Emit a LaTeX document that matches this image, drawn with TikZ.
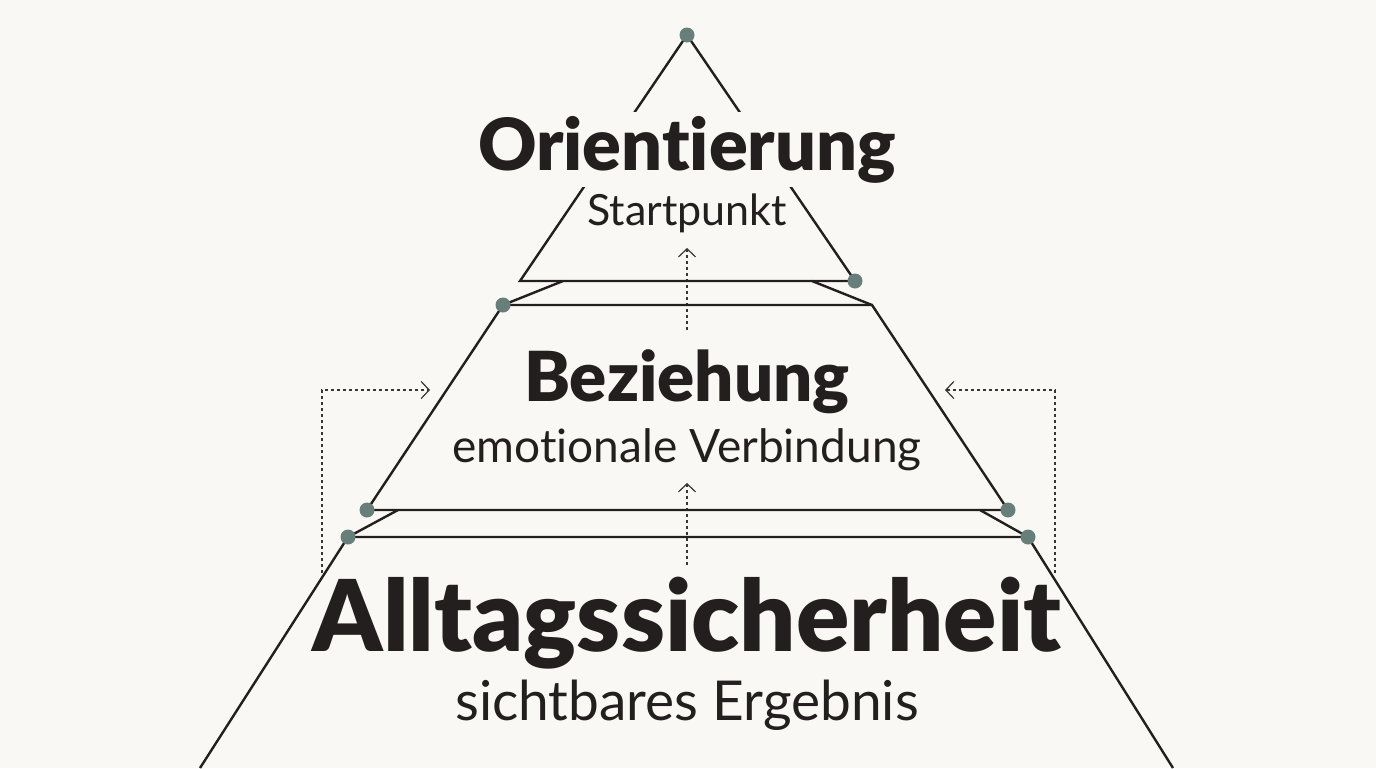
\documentclass[tikz,border=0pt]{standalone}
\usepackage{fontspec}
\setmainfont{Lato}[Ligatures=NoCommon, BoldFont={Lato Black}]
\usetikzlibrary{arrows.meta}
\definecolor{papier}{RGB}{250,248,245}
\definecolor{tinte}{RGB}{35,31,30}
\definecolor{punktfarbe}{RGB}{104,126,122}
\def\breite{1376}
\def\hoehe{768}
\tikzset{
  kante/.style={line width=1.2pt, tinte},
  punkt/.style={circle, fill=punktfarbe, inner sep=0pt, minimum size=7.5pt},
  pfeil/.style={line width=0.6pt, tinte!90, dash pattern=on 1.5pt off 1.5pt,
    -{Straight Barb[length=4pt, width=8.5pt]}},
  titel/.style={tinte, font=\bfseries, inner sep=0pt, anchor=base},
  untertitel/.style={tinte, inner sep=0pt, anchor=base},
}

\begin{document}
\begin{tikzpicture}[x=0.5pt, y=-0.5pt]
    % Background.
    \fill[papier] (0,0) rectangle (\breite,\hoehe);
    \useasboundingbox (0,0) rectangle (\breite,\hoehe);
    % Corners.
    \coordinate (spitze) at (687,35);
    \coordinate (o-l) at (520,281);
    \coordinate (o-r) at (855,281);
    \coordinate (o-li) at (563,281);
    \coordinate (o-ri) at (812,281);
    \coordinate (m-ol) at (503,305);
    \coordinate (m-or) at (872,305);
    \coordinate (m-ul) at (367,510);
    \coordinate (m-ur) at (1008,510);
    \coordinate (m-uli) at (398,510);
    \coordinate (m-uri) at (980,510);
    \coordinate (u-ol) at (348,537);
    \coordinate (u-or) at (1028,537);
    \coordinate (u-ul) at (200,768);
    \coordinate (u-ur) at (1173,768);
    % Dotted arrows.
    \coordinate (p1-a) at (687,330);
    \coordinate (p1-b) at (687,248);
    \coordinate (p2-a) at (687,565);
    \coordinate (p2-b) at (687,483);
    \coordinate (p3-a) at (322,573);
    \coordinate (p3-b) at (430,390);
    \coordinate (p4-a) at (1055,573);
    \coordinate (p4-b) at (945,390);
    \draw[pfeil] (p1-a) -- (p1-b);
    \draw[pfeil] (p2-a) -- (p2-b);
    \draw[pfeil] (p3-a) |- (p3-b);
    \draw[pfeil] (p4-a) |- (p4-b);
    % Levels.
    \draw[kante] (o-l) -- (spitze) -- (o-r) -- cycle;
    \draw[kante] (o-li) -- (m-ol);
    \draw[kante] (o-ri) -- (m-or);
    \draw[kante] (m-ol) -- (m-or) -- (m-ur) -- (m-ul) -- cycle;
    \draw[kante] (m-uli) -- (u-ol);
    \draw[kante] (m-uri) -- (u-or);
    \draw[kante] (u-ul) -- (u-ol) -- (u-or) -- (u-ur);
    % Labels.
    \node[titel, fill=papier, inner xsep=0pt, inner ysep=2pt, font=\bfseries\fontsize{36}{40}\selectfont] (orientierung) at (687,170) {Orientierung};
    \node[untertitel, font=\fontsize{21.5}{24}\selectfont] (startpunkt) at (687,225) {Startpunkt};
    \node[titel, font=\bfseries\fontsize{34.5}{38}\selectfont] (beziehung) at (687,401) {Beziehung};
    \node[untertitel, font=\fontsize{23}{26}\selectfont] (verbindung) at (687,462) {emotionale Verbindung};
    \node[titel, font=\bfseries\fontsize{49.5}{54}\selectfont] (alltag) at (687,651) {Alltagssicherheit};
    \node[untertitel, font=\fontsize{27.5}{30}\selectfont] (ergebnis) at (687,720) {sichtbares Ergebnis};
    % Dots.
    \node[punkt] (d1) at (spitze) {};
    \node[punkt] (d2) at (o-r) {};
    \node[punkt] (d3) at (m-ol) {};
    \node[punkt] (d4) at (m-ul) {};
    \node[punkt] (d5) at (m-ur) {};
    \node[punkt] (d6) at (u-ol) {};
    \node[punkt] (d7) at (u-or) {};
\end{tikzpicture}
\end{document}
